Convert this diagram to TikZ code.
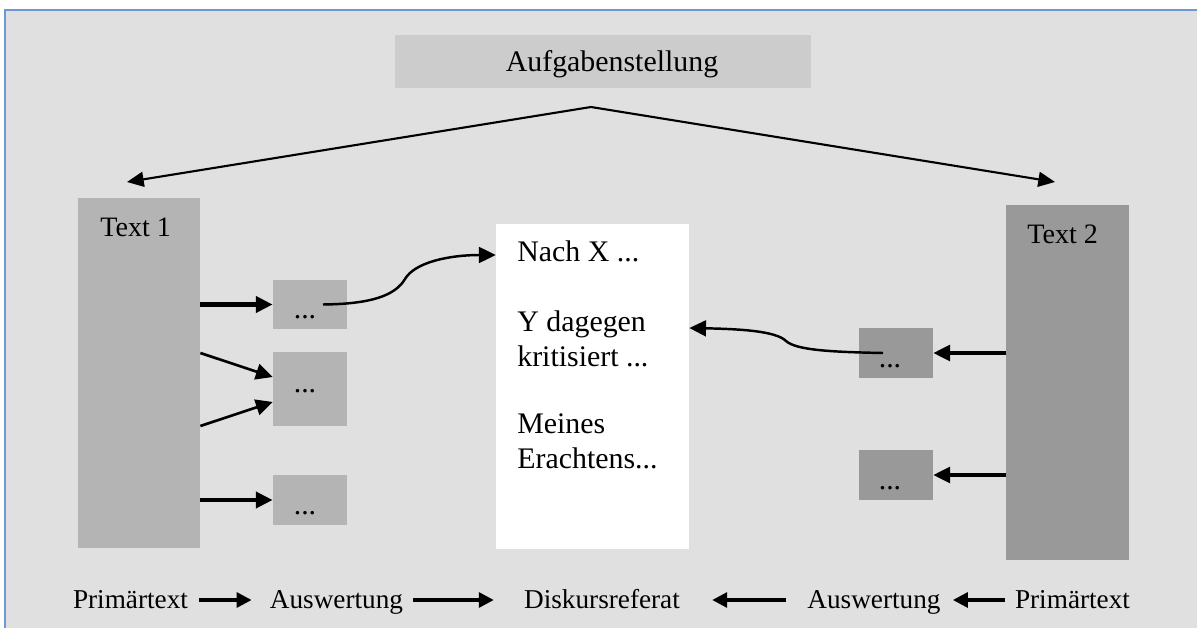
\documentclass[tikz,border=0pt]{standalone}
\usepackage{fontspec}
\setmainfont{Liberation Serif}
\usetikzlibrary{arrows.meta}
\definecolor{bggray}{RGB}{224,224,224}
\definecolor{aufgray}{RGB}{204,204,204}
\definecolor{lgray}{RGB}{180,180,180}
\definecolor{dgray}{RGB}{153,153,153}
\definecolor{frameblue}{RGB}{108,152,212}
\tikzset{
  boxshape/.style={inner sep=0, minimum width=1.48cm},
  bigtext/.style={font=\fontsize{17}{20}\selectfont, inner sep=0},
  dotstext/.style={font=\fontsize{17}{20}\selectfont, inner sep=0, anchor=base},
  bottomtext/.style={font=\fontsize{15.5}{18}\selectfont, inner sep=0, anchor=base},
  tip/.style={-{Triangle[length=9.5pt,width=9pt]}},
  bitip/.style={{Triangle[length=9.5pt,width=8.5pt]}-{Triangle[length=9.5pt,width=8.5pt]}},
  btip/.style={-{Triangle[length=8.5pt,width=8.5pt]}, line width=1.8pt},
}
\begin{document}
\begin{tikzpicture}[x=0.02cm,y=-0.02cm]
\useasboundingbox (0,0) rectangle (1197,628);
\fill[white] (0,0) rectangle (1197,628);
\fill[bggray] (5,10) rectangle (1197,628);
\draw[frameblue, line width=1.2pt] (5,628) -- (5,10) -- (1197,10);

% top box
\node[fill=aufgray, minimum width=8.32cm, minimum height=1.06cm, bigtext, text height=15.6pt, text depth=3.7pt] (aufg) at (603,61.5) {\hspace*{0.36cm}Aufgabenstellung};
\coordinate (apex) at (591,107);
\coordinate (tipL) at (127,182);
\coordinate (tipR) at (1055,182);
\draw[bitip, line width=1.2pt] (tipL) -- (apex) -- (tipR);

% Text 1 / Text 2
\node[fill=lgray, minimum width=2.44cm, minimum height=7cm, inner sep=0] (text1) at (139,373) {};
\node[font=\fontsize{16}{19}\selectfont, anchor=base west, inner sep=0] (t1lab) at (100,237) {Text 1};
\node[fill=dgray, minimum width=2.46cm, minimum height=7.1cm, inner sep=0] (text2) at (1067.5,382.5) {};
\node[font=\fontsize{16}{19}\selectfont, anchor=base west, inner sep=0] (t2lab) at (1027,244) {Text 2};

% left small boxes
\node[boxshape, fill=lgray, minimum height=0.98cm] (b1) at (310,304.5) {};
\node[boxshape, fill=lgray, minimum height=1.48cm] (b2) at (310,389) {};
\node[boxshape, fill=lgray, minimum height=1.0cm] (b3) at (310,500) {};
\node[dotstext] (d1) at (305,318) {...};
\node[dotstext] (d2) at (305,392) {...};
\node[dotstext] (d3) at (305,514) {...};

% right small boxes
\node[boxshape, fill=dgray, minimum height=1.0cm] (b4) at (896,353) {};
\node[boxshape, fill=dgray, minimum height=1.0cm] (b5) at (896,475) {};
\node[dotstext] (d4) at (890,367) {...};
\node[dotstext] (d5) at (890,489) {...};

% white box
\node[fill=white, minimum width=3.86cm, minimum height=6.5cm, inner sep=0] (wb) at (592.5,386.5) {};
\node[bigtext, anchor=base west] (l1) at (517,262) {Nach X ...};
\node[bigtext, anchor=base west] (l2) at (517,332) {Y dagegen};
\node[bigtext, anchor=base west] (l3) at (517,366) {kritisiert ...};
\node[bigtext, anchor=base west] (l4) at (517,433) {Meines};
\node[bigtext, anchor=base west] (l5) at (517,468) {Erachtens...};

% left arrows
\draw[tip, line width=2.3pt] (text1.east |- b1.west) -- (b1.west);
\draw[tip, line width=1.5pt] (text1.east |- 0,353) -- (b2.west |- 0,377);
\draw[tip, line width=1.5pt] (text1.east |- 0,426) -- (b2.west |- 0,402);
\draw[tip, line width=2.3pt] (text1.east |- b3.west) -- (b3.west);

% right arrows
\draw[tip, line width=1.8pt] (text2.west |- b4.east) -- (b4.east);
\draw[tip, line width=1.8pt] (text2.west |- b5.east) -- (b5.east);

% curves
\draw[tip, line width=1.4pt] ([xshift=0.26cm]b1.center) .. controls (370,304) and (395,296) .. (405,279) .. controls (415,262) and (450,255) .. (wb.west |- 0,255);
\draw[tip, line width=1.4pt] ([xshift=-0.26cm]b4.center) .. controls (830,352) and (796,350) .. (786,341) .. controls (776,331) and (740,329) .. (wb.east |- 0,328);

% bottom row
\node[bottomtext] (p1) at (130.5,608) {Primärtext};
\node[bottomtext] (a1) at (336.5,608) {Auswertung};
\node[bottomtext] (dr) at (602,608) {Diskursreferat};
\node[bottomtext] (a2) at (874,608) {Auswertung};
\node[bottomtext] (p2) at (1072.5,608) {Primärtext};
\draw[btip, shorten <=0.22cm, shorten >=0.36cm] (p1.east |- 0,600) -- (a1.west |- 0,600);
\draw[btip, shorten <=0.2cm, shorten >=0.6cm] (a1.east |- 0,600) -- (dr.west |- 0,600);
\draw[btip, shorten <=0.42cm, shorten >=0.64cm] (a2.west |- 0,600) -- (dr.east |- 0,600);
\draw[btip, shorten <=0.2cm, shorten >=0.24cm] (p2.west |- 0,600) -- (a2.east |- 0,600);
\end{tikzpicture}
\end{document}
